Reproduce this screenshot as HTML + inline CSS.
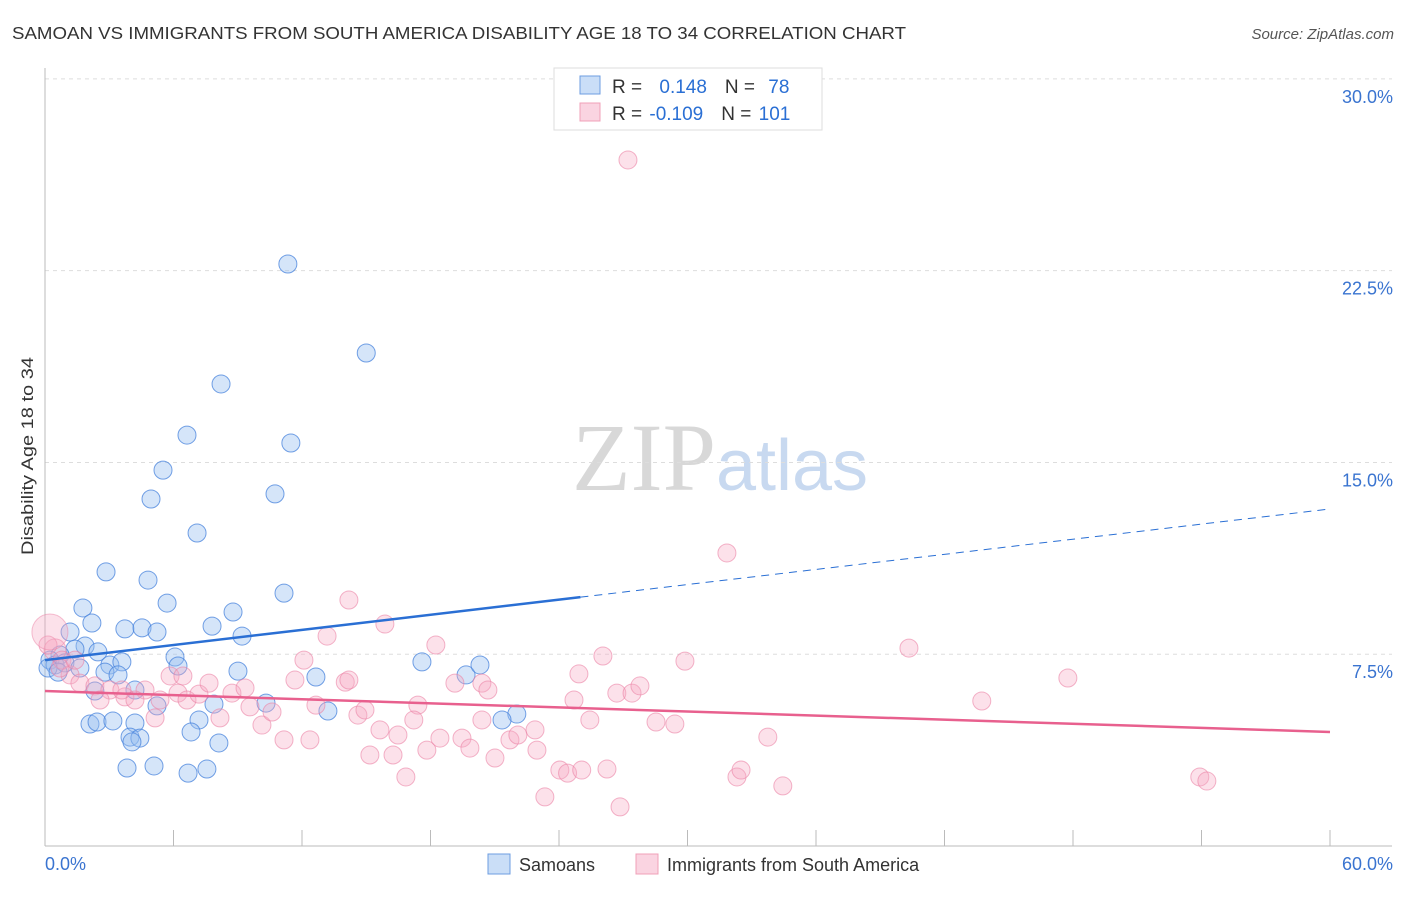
<!DOCTYPE html>
<html><head><meta charset="utf-8"><style>
body{margin:0;background:#fff;font-family:"Liberation Sans",sans-serif;}
svg text{font-family:"Liberation Sans",sans-serif;}
</style></head><body>
<svg id="chart" width="1406" height="892" xmlns="http://www.w3.org/2000/svg">
<text x="12" y="39" font-size="17.5" fill="#333" textLength="894" lengthAdjust="spacingAndGlyphs">SAMOAN VS IMMIGRANTS FROM SOUTH AMERICA DISABILITY AGE 18 TO 34 CORRELATION CHART</text>
<text x="1394" y="39" font-size="15" fill="#555" font-style="italic" text-anchor="end">Source: ZipAtlas.com</text>
<text x="720" y="490" font-size="96" text-anchor="middle"><tspan fill="#d8d8d8" font-family="Liberation Serif">ZIP</tspan><tspan fill="#c8d9f0" font-size="72">atlas</tspan></text>
<g id="grid"></g>
<g id="axes"></g>
<g id="blue-pts"></g>
<g id="pink-pts"></g>
<g id="trends"></g>
<text transform="translate(33,456) rotate(-90)" font-size="17" fill="#333" text-anchor="middle" textLength="198" lengthAdjust="spacingAndGlyphs">Disability Age 18 to 34</text>
<g>
<rect x="554" y="68" width="268" height="62" fill="#fff" stroke="#ddd"/>
<rect x="580" y="76" width="20" height="18" fill="rgba(150,190,240,0.5)" stroke="#6d9de0"/>
<rect x="580" y="103" width="20" height="18" fill="rgba(245,170,195,0.5)" stroke="#f0a0b8"/>
<text x="612" y="93" font-size="19" fill="#333">R = <tspan fill="#2a6fd4" dx="12">0.148</tspan><tspan dx="18" fill="#333">N = </tspan><tspan dx="8" fill="#2a6fd4">78</tspan></text>
<text x="612" y="120" font-size="19" fill="#333">R = <tspan fill="#2a6fd4" dx="2">-0.109</tspan><tspan dx="18" fill="#333">N = </tspan><tspan dx="2" fill="#2a6fd4">101</tspan></text>
</g>
<g>
<rect x="488" y="854" width="22" height="20" fill="rgba(150,190,240,0.5)" stroke="#6d9de0"/>
<text x="519" y="871" font-size="18" fill="#333">Samoans</text>
<rect x="636" y="854" width="22" height="20" fill="rgba(245,170,195,0.5)" stroke="#f0a0b8"/>
<text x="667" y="871" font-size="18" fill="#333">Immigrants from South America</text>
</g>
</svg>
<script>
const blueX=[11.34,15.0,8.22,6.63,11.48,5.51,4.95,10.74,7.10,2.85,4.81,11.16,1.77,5.70,8.78,2.19,3.73,4.53,5.23,7.80,9.20,1.17,1.87,1.40,2.47,0.70,0.23,0.47,0.93,1.63,3.03,3.59,2.80,3.41,6.07,6.21,9.01,12.65,17.60,19.66,20.31,2.33,4.20,5.23,7.89,10.32,13.21,22.03,21.34,2.10,2.43,3.17,4.20,7.19,3.97,4.43,4.06,6.82,8.12,3.83,5.09,6.68,7.56,0.14,0.61];
const blueY=[22.76,19.28,18.07,16.07,15.76,14.70,13.57,13.77,12.24,10.72,10.40,9.89,9.31,9.50,9.15,8.72,8.49,8.53,8.37,8.60,8.21,8.37,7.82,7.70,7.59,7.47,7.27,7.08,7.16,6.96,7.08,7.20,6.80,6.69,7.39,7.04,6.84,6.61,7.20,6.69,7.08,6.06,6.10,5.48,5.55,5.59,5.28,5.16,4.93,4.77,4.85,4.89,4.81,4.93,4.26,4.22,4.07,4.46,4.03,3.05,3.13,2.85,3.01,6.96,6.80];
const pinkX=[27.22,31.84,14.19,15.87,13.17,18.25,12.09,26.05,29.88,40.34,24.93,47.76,43.74,53.92,54.25,0.47,0.79,1.17,1.63,2.33,3.03,3.73,4.67,5.37,5.84,6.44,6.21,6.63,7.19,7.66,8.17,8.73,9.34,9.57,10.13,10.60,11.16,11.67,12.37,12.65,14.02,14.19,14.61,14.94,15.17,15.64,16.25,16.48,16.85,17.41,17.22,17.83,18.44,19.14,19.47,19.84,20.40,20.68,20.40,21.01,21.71,22.08,22.88,22.97,23.34,24.04,24.40,25.06,25.44,24.70,26.24,26.70,26.85,27.41,27.78,28.53,29.41,32.31,32.50,33.75,34.45,0.14,0.70,1.40,2.57,4.20,5.14,3.59];
const pinkY=[26.83,11.46,9.62,8.68,8.21,7.86,7.27,7.43,7.23,7.74,6.73,6.57,5.67,2.70,2.54,7.67,7.27,6.69,6.37,6.26,6.10,5.83,6.10,5.71,6.65,6.65,5.98,5.71,5.94,6.37,5.01,5.98,6.18,5.44,4.73,5.24,4.15,6.49,4.15,5.51,6.41,6.49,5.12,5.32,3.56,4.54,3.56,4.34,2.70,5.51,4.93,3.75,4.22,6.37,4.22,3.83,6.37,6.10,4.93,3.44,4.15,4.34,4.54,3.75,1.92,2.97,2.85,2.97,4.93,5.71,3.01,5.98,1.53,5.98,6.26,4.85,4.77,2.70,2.97,4.26,2.35,7.86,6.96,7.27,5.71,5.71,5.01,6.10];
const yTicks=[7.5,15,22.5,30];
const yTickLabels=["7.5%","15.0%","22.5%","30.0%"];
const xTicks=[0,6,12,18,24,30,36,42,48,54,60];
const blueTrend=[7.27,13.18]; const blueSolidEnd=25;
const pinkTrend=[6.06,4.46];
const NS="http://www.w3.org/2000/svg";
const X=v=>45+v*1285/60, Y=v=>846-v*25.57;
function mk(t,a,p){const e=document.createElementNS(NS,t);for(const k in a)e.setAttribute(k,a[k]);p.appendChild(e);return e;}
const grid=document.getElementById('grid'),axes=document.getElementById('axes');
yTicks.forEach((t,i)=>{
 const l=mk('line',{x1:45,x2:1392,y1:Y(t),y2:Y(t),stroke:'#ddd','stroke-dasharray':'4,4'},grid);
 
 
 const tx=mk('text',{x:1393,y:Y(t)+24,'font-size':18,fill:'#3a74d0','text-anchor':'end'},axes);tx.textContent=yTickLabels[i];
 
 
});
mk('line',{x1:45,x2:45,y1:68,y2:846,stroke:'#bbb'},axes);
mk('line',{x1:45,x2:1392,y1:846,y2:846,stroke:'#bbb'},axes);
xTicks.forEach(t=>{const l=mk('line',{x1:X(t),x2:X(t),y1:830,y2:846,stroke:'#bbb'},axes);
 
 });
let t0=mk('text',{x:45,y:870,'font-size':18,fill:'#3a74d0'},axes);t0.textContent='0.0%';
let t1=mk('text',{x:1393,y:870,'font-size':18,fill:'#3a74d0','text-anchor':'end'},axes);t1.textContent='60.0%';
const bp=document.getElementById('blue-pts'),pp=document.getElementById('pink-pts');
pinkX.forEach((x,i)=>{const c=mk('circle',{cx:X(x),cy:Y(pinkY[i]),r:i==15?11:9,fill:'rgba(245,170,195,0.35)',stroke:'rgba(235,130,165,0.6)','stroke-width':1},pp);
 
 });
mk('circle',{cx:X(0.23),cy:Y(8.37),r:18,fill:'rgba(245,170,195,0.35)',stroke:'rgba(235,130,165,0.5)'},pp);
blueX.forEach((x,i)=>{const c=mk('circle',{cx:X(x),cy:Y(blueY[i]),r:9,fill:'rgba(150,190,240,0.4)',stroke:'rgba(70,130,220,0.75)','stroke-width':1},bp);
 
 });
const tr=document.getElementById('trends');
const bAt=v=>blueTrend[0]+(blueTrend[1]-blueTrend[0])*v/60;
let l1=mk('line',{x1:X(0),y1:Y(bAt(0)),x2:X(blueSolidEnd),y2:Y(bAt(blueSolidEnd)),stroke:'#2a6fd4','stroke-width':2.5},tr);


let l2=mk('line',{x1:X(blueSolidEnd),y1:Y(bAt(blueSolidEnd)),x2:X(60),y2:Y(bAt(60)),stroke:'#2a6fd4','stroke-width':1,'stroke-dasharray':'8,6'},tr);


let l3=mk('line',{x1:X(0),y1:Y(pinkTrend[0]),x2:X(60),y2:Y(pinkTrend[1]),stroke:'#e8608e','stroke-width':2.5},tr);


</script>
</body></html>
